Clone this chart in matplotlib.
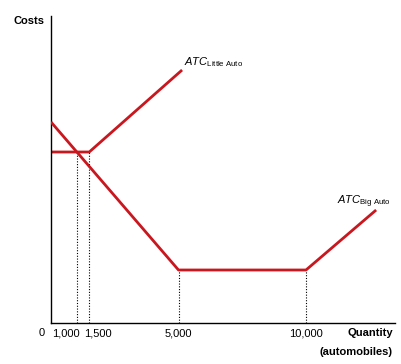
import matplotlib
matplotlib.use("Agg")
import matplotlib.pyplot as plt

plt.rcParams['font.family'] = ['Liberation Sans', 'DejaVu Sans']
plt.rcParams['mathtext.fontset'] = 'custom'
plt.rcParams['mathtext.rm'] = 'Liberation Sans'
plt.rcParams['mathtext.it'] = 'Liberation Sans:italic'

# Data
little_q = [0, 1500, 5140]
little_cost = [17.1, 17.1, 25.3]
big_q = [0, 5000, 10000, 12750]
big_cost = [20.1, 5.3, 5.3, 11.3]
drop_q = [1000, 1500, 5000, 10000]
drop_cost = [17.1, 17.1, 5.3, 5.3]
tick_q = [0, 1000, 1500, 5000, 10000]
tick_labels = ['0', '1,000', '1,500', '5,000', '10,000']

red = '#c8171e'

fig = plt.figure(figsize=(4.02, 3.64), dpi=100)
ax = fig.add_axes([51/402, 41/364, 344/402, 307/364])
ax.set_xlim(0, 13490)
ax.set_ylim(0, 30.7)

for q, c in zip(drop_q, drop_cost):
    ax.plot([q, q], [0, c], color='black', lw=0.8, ls=(0, (1, 1.5)), zorder=1)

ax.plot(little_q, little_cost, color=red, lw=2.0, solid_capstyle='butt', zorder=2)
ax.plot(big_q, big_cost, color=red, lw=2.0, solid_capstyle='butt', zorder=3)

for s in ['top', 'right']:
    ax.spines[s].set_visible(False)
for s in ['left', 'bottom']:
    ax.spines[s].set_linewidth(1.0)

ax.set_yticks([])
ax.set_xticks([])

# tick labels with manual horizontal placement (pixel offsets)
offsets = [-9, 3, -5, 0, 0]
aligns = ['center', 'right', 'left', 'center', 'center']
for q, lab, dx, ha in zip(tick_q, tick_labels, offsets, aligns):
    ax.annotate(lab, xy=(q, 0), xycoords=('data', 'axes fraction'),
                xytext=(dx * 0.72, -7.2), textcoords='offset points',
                fontsize=8, ha=ha, va='center')

fig.text(45/402, 1 - 21/364, 'Costs', fontsize=8, fontweight='bold', ha='right', va='center')
fig.text(393/402, 1 - 333/364, 'Quantity', fontsize=8, fontweight='bold', ha='right', va='center')
fig.text(393/402, 1 - 352/364, '(automobiles)', fontsize=8, fontweight='bold', ha='right', va='center')

ax.text(5200, 25.4, r'$\mathit{ATC}_{\mathrm{Little\ Auto}}$', fontsize=8, ha='left', va='bottom')
ax.text(11200, 11.3, r'$\mathit{ATC}_{\mathrm{Big\ Auto}}$', fontsize=8, ha='left', va='bottom')

fig.savefig('out.png', dpi=100)
